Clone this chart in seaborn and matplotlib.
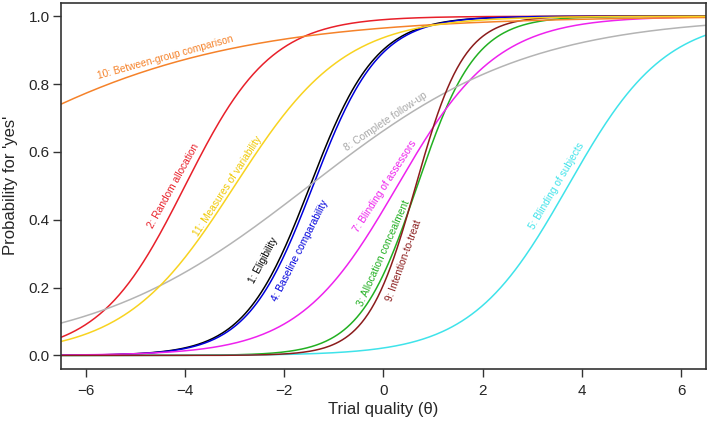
import numpy as np
import pandas as pd
import matplotlib
matplotlib.use("Agg")
import matplotlib.pyplot as plt
import seaborn as sns

# item labels, 2PL parameters (slope, theta where P = 0.5)
items = ["1: Eligibility", "2: Random allocation", "3: Allocation concealment",
         "4: Baseline comparability", "5: Blinding of subjects", "7: Blinding of assessors",
         "8: Complete follow-up", "9: Intention-to-treat", "10: Between-group comparison",
         "11: Measures of variability"]
discrimination = [1.50, 1.15, 1.70, 1.50, 1.02, 1.00, 0.45, 2.05, 0.35, 0.90]
location = [-1.48, -4.00, 0.68, -1.42, 3.72, 0.28, -1.50, 0.65, -9.50, -3.00]

line_colors = ["#000000", "#e8202a", "#22b022", "#0000dd", "#3fe3ea", "#ee22ee",
               "#b4b4b4", "#8b1c1c", "#f5822a", "#f8d320"]
label_colors = ["#000000", "#e8202a", "#22b022", "#0000dd", "#3fe3ea", "#ee22ee",
                "#a8a8a8", "#8b1c1c", "#f5822a", "#f0c800"]

# label placement (theta, P, angle in degrees)
label_pos = [(-2.42, 0.28, 62), (-4.23, 0.50, 61), (0.0, 0.30, 66), (-1.68, 0.31, 63),
             (3.49, 0.50, 59.5), (0.03, 0.50, 57), (0.05, 0.69, 34), (0.42, 0.28, 70),
             (-4.39, 0.878, 15.5), (-3.14, 0.50, 57)]

theta = np.linspace(-6.5, 6.5, 400)
rows = []
for name, a, b in zip(items, discrimination, location):
    p = 1.0 / (1.0 + np.exp(-a * (theta - b)))
    rows.append(pd.DataFrame({"theta": theta, "p": p, "item": name}))
df = pd.concat(rows, ignore_index=True)

sns.set_style("ticks")
plt.rcParams["font.family"] = ["Liberation Sans", "DejaVu Sans"]

fig = plt.figure(figsize=(7.09, 4.22), dpi=100)
ax = fig.add_axes([0.086, 0.1256, 0.9098, 0.868])

sns.lineplot(data=df, x="theta", y="p", hue="item", hue_order=items,
             palette=dict(zip(items, line_colors)), linewidth=1.1, legend=False, ax=ax)

for name, col, (tx, ty, rot) in zip(items, label_colors, label_pos):
    ax.text(tx, ty, name, color=col, fontsize=7.3, rotation=rot,
            rotation_mode="anchor", ha="center", va="center")

ax.set_xlim(-6.5, 6.5)
ax.set_ylim(-0.04, 1.04)
ax.set_xticks([-6, -4, -2, 0, 2, 4, 6])
ax.set_yticks([0.0, 0.2, 0.4, 0.6, 0.8, 1.0])
ax.set_yticklabels(["0.0", "0.2", "0.4", "0.6", "0.8", "1.0"])
ax.tick_params(axis="both", labelsize=11, length=5.5, width=1.0, color="#333333", direction="out")
ax.tick_params(axis="x", pad=5)
ax.tick_params(axis="y", pad=2.5)
for s in ax.spines.values():
    s.set_visible(True)
    s.set_color("#333333")
    s.set_linewidth(1.2)

ax.set_xlabel("Trial quality (\u03b8)", fontsize=12, labelpad=3.5)
ax.set_ylabel("Probability for 'yes'", fontsize=12, labelpad=8)

fig.savefig("out.png", dpi=100)
